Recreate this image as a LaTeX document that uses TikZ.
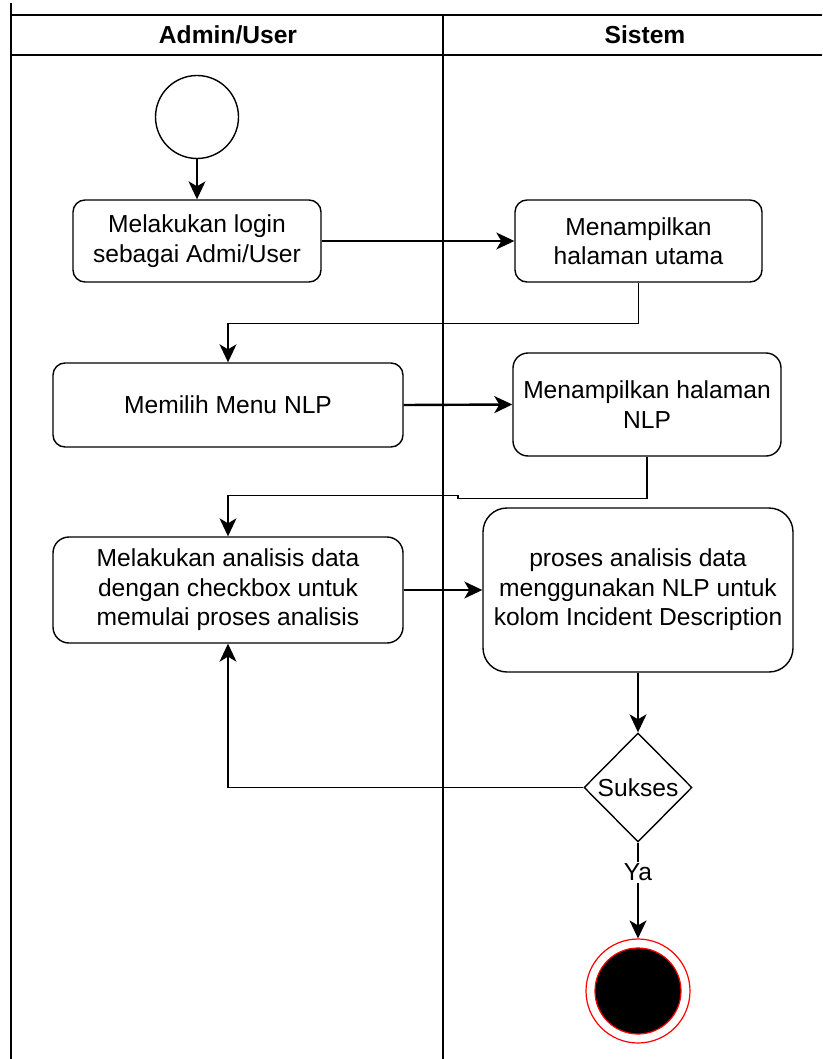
\documentclass[tikz,border=0pt]{standalone}
\usepackage{fontspec}
\setmainfont{Liberation Sans}
\usepackage{tikz}
\usetikzlibrary{shapes.geometric, arrows.meta, positioning, calc}

\begin{document}
\begin{tikzpicture}[x=1pt, y=-1pt,
  box/.style={draw, line width=1.4pt, rounded corners=12pt, align=center, inner sep=0pt,
              font=\fontsize{24.6}{29.5}\selectfont},
  lane/.style={line width=2.2pt},
  head/.style={font=\fontsize{24.6}{29.5}\selectfont\bfseries},
  arrow/.style={-{Stealth[length=18pt, width=17pt, inset=5pt]}, line width=1.3pt},
  label/.style={font=\fontsize{24.6}{29.5}\selectfont, fill=white, inner sep=2pt}
]
\useasboundingbox (0,0) rectangle (822,1059);

% Swimlanes
\draw[lane] (11,3) -- (11,1059);
\draw[lane] (443,15) -- (443,1059);
\draw[lane] (11,15) -- (822,15);
\draw[lane] (11,55) -- (822,55);
\node[head] (laneuser) at (228,35) {Admin/User};
\node[head] (lanesys)  at (645,35) {Sistem};

% Start
\node[circle, draw, line width=1.4pt, minimum size=83pt, inner sep=0pt] (start) at (197,117) {};

% Row 1: login
\node[box, minimum width=248pt, minimum height=82pt] (login) at (197,241) {Melakukan login\\sebagai Admi/User};
\node[box, minimum width=247pt, minimum height=82pt] (utama) at (638.5,241) {Menampilkan\\halaman utama};

% Row 2: menu NLP
\node[box, minimum width=350pt, minimum height=84pt] (menu) at (228,405) {Memilih Menu NLP};
\node[box, minimum width=268pt, minimum height=103pt, rounded corners=15pt] (halnlp) at (647,404.5) {Menampilkan halaman\\NLP};

% Row 3: analisis
\node[box, minimum width=350pt, minimum height=106pt, rounded corners=16pt] (analisis) at (228,590) {Melakukan analisis data\\dengan checkbox untuk\\memulai proses analisis};
\node[box, minimum width=310pt, minimum height=164pt, rounded corners=24pt] (proses) at (638,590) {proses analisis data\\menggunakan NLP untuk\\kolom Incident Description};

% Decision + end
\node[diamond, draw, line width=1.4pt, minimum width=108pt, minimum height=109pt, inner sep=0pt,
      font=\fontsize{24.6}{29.5}\selectfont] (sukses) at (638,787.5) {Sukses};
\node[circle, draw=red, line width=1.2pt, minimum size=104pt, inner sep=0pt] (end) at (638,991) {};
\node[circle, draw=red, fill=black, line width=1.2pt, minimum size=86pt, inner sep=0pt] (endin) at (end.center) {};

% Arrows
\draw[arrow] (start) -- (login);
\draw[arrow] (login.east) -- (utama.west);
\draw[arrow] (utama.south) -- ++(0,41) -| (menu.north);
\draw[arrow, line width=2.4pt] (menu.east) -- (halnlp.west);
\draw[arrow] (halnlp.south) -- ++(0,42) -- ++(-189,0) -- ++(0,-3) -| (analisis.north);
\draw[arrow] (analisis.east) -- (proses.west);
\draw[arrow] (proses.south) -- (sukses.north);
\draw[arrow] (sukses.west) -| (analisis.south);
\draw[arrow] (sukses.south) -- node[label, pos=0.31]{Ya} (end.north);

\end{tikzpicture}
\end{document}
